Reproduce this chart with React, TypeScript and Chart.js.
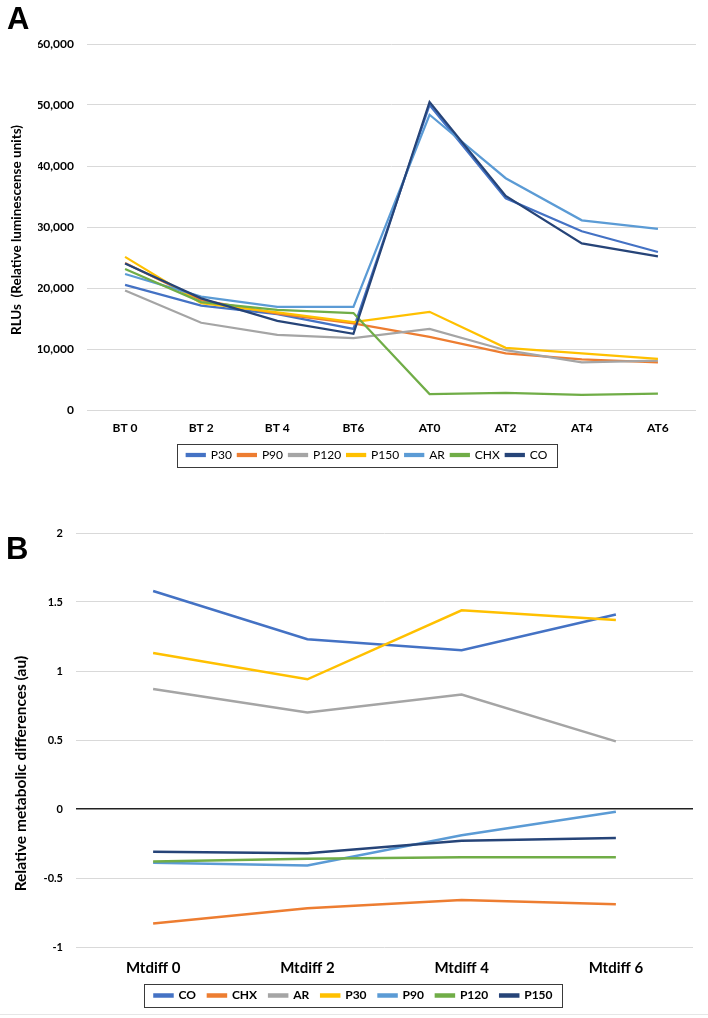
import React, { useEffect, useRef } from 'react';
import { Chart, registerables } from 'chart.js';

Chart.register(...registerables);

const FONT = 'Lato, "Open Sans", sans-serif';

// ---------- Panel A data ----------
const categoriesA = ['BT 0', 'BT 2', 'BT 4', 'BT6', 'AT0', 'AT2', 'AT4', 'AT6'];
const seriesNamesA = ['P30', 'P90', 'P120', 'P150', 'AR', 'CHX', 'CO'];
const p30A = [20500, 17100, 15700, 13300, 50000, 34700, 29300, 25900];
const p90A = [24100, 18000, 15800, 14200, 12000, 9300, 8300, 7800];
const p120A = [19600, 14300, 12300, 11800, 13300, 9800, 7800, 8100];
const p150A = [25100, 17500, 16000, 14400, 16100, 10200, 9300, 8400];
const arA = [22300, 18600, 16900, 16900, 48400, 38000, 31100, 29700];
const chxA = [23100, 17700, 16400, 15900, 2600, 2800, 2500, 2700];
const coA = [24000, 18300, 14600, 12500, 50500, 35100, 27300, 25200];
const colorsA = ['#4472C4', '#ED7D31', '#A5A5A5', '#FFC000', '#5B9BD5', '#70AD47', '#264478'];
const yTicksA = { min: 0, max: 60000, step: 10000 };
const yTitleA = 'RLUs  (Relative luminescense units)';

// ---------- Panel B data ----------
const categoriesB = ['Mtdiff 0', 'Mtdiff 2', 'Mtdiff 4', 'Mtdiff 6'];
const seriesNamesB = ['CO', 'CHX', 'AR', 'P30', 'P90', 'P120', 'P150'];
const coB = [1.58, 1.23, 1.15, 1.41];
const chxB = [-0.83, -0.72, -0.66, -0.69];
const arB = [0.87, 0.70, 0.83, 0.49];
const p30B = [1.13, 0.94, 1.44, 1.37];
const p90B = [-0.39, -0.41, -0.19, -0.02];
const p120B = [-0.38, -0.36, -0.35, -0.35];
const p150B = [-0.31, -0.32, -0.23, -0.21];
const colorsB = ['#4472C4', '#ED7D31', '#A5A5A5', '#FFC000', '#5B9BD5', '#70AD47', '#264478'];
const yTicksB = { min: -1, max: 2, step: 0.5 };
const yTitleB = 'Relative metabolic differences (au)';

const boxedLegend = {
  id: 'boxedLegend',
  afterDraw(chart: any, _args: any, opts: any) {
    const lg = chart.legend;
    if (!lg || !lg.legendHitBoxes || !lg.legendHitBoxes.length) return;
    let l = Infinity, r = -Infinity, t = Infinity, b = -Infinity;
    lg.legendHitBoxes.forEach((h: any) => {
      l = Math.min(l, h.left);
      r = Math.max(r, h.left + h.width);
      t = Math.min(t, h.top);
      b = Math.max(b, h.top + h.height);
    });
    const px = opts.padX ?? 10;
    const py = opts.padY ?? 5;
    const ctx = chart.ctx;
    ctx.save();
    ctx.strokeStyle = '#3a3a3a';
    ctx.lineWidth = 1;
    ctx.strokeRect(Math.round(l - px) + 0.5, Math.round(t - py) + 0.5, Math.round(r - l + 2 * px), Math.round(b - t + 2 * py));
    ctx.restore();
  },
};

const yTitlePlugin = {
  id: 'yTitle',
  afterDraw(chart: any, _args: any, opts: any) {
    if (!opts || !opts.text) return;
    const ctx = chart.ctx;
    ctx.save();
    ctx.translate(opts.x, opts.y);
    ctx.rotate(-Math.PI / 2);
    ctx.font = `bold ${opts.size}px ${FONT}`;
    ctx.fillStyle = '#000';
    ctx.textAlign = 'center';
    ctx.textBaseline = 'middle';
    ctx.fillText(opts.text, 0, 0);
    ctx.restore();
  },
};

function buildConfig(p: any) {
  const n = p.series.length;
  return {
    type: 'line',
    data: {
      labels: p.labels,
      datasets: p.series.map((s: number[], i: number) => ({
        label: p.names[i],
        data: s,
        borderColor: p.colors[i],
        backgroundColor: p.colors[i],
        borderWidth: p.lineWidth,
        pointRadius: 0,
        tension: 0,
        fill: false,
        order: n - i,
      })),
    },
    options: {
      responsive: false,
      animation: false,
      devicePixelRatio: 1,
      layout: { padding: p.padding },
      scales: {
        x: {
          offset: true,
          grid: { display: false, offset: false, drawTicks: false },
          border: { display: false },
          ticks: {
            color: '#000',
            padding: p.xTickPad,
            font: { family: FONT, size: p.xFontSize, weight: 'bold' },
            maxRotation: 0,
          },
          afterFit: (axis: any) => { axis.height = p.xAxisHeight; },
        },
        y: {
          min: p.yTicks.min,
          max: p.yTicks.max,
          border: { display: false },
          grid: {
            drawTicks: false,
            color: (c: any) => (p.zeroLine && c.tick && c.tick.value === 0 ? '#222' : '#d9d9d9'),
            lineWidth: (c: any) => (p.zeroLine && c.tick && c.tick.value === 0 ? 1.6 : 1),
          },
          ticks: {
            stepSize: p.yTicks.step,
            color: '#000',
            padding: p.yTickPad,
            font: { family: FONT, size: p.yFontSize, weight: 'bold' },
            callback: p.tickFmt,
          },
          afterFit: (axis: any) => { axis.width = p.yAxisWidth; },
        },
      },
      plugins: {
        tooltip: { enabled: false },
        legend: {
          display: true,
          position: 'bottom',
          labels: {
            boxWidth: 18,
            boxHeight: 2,
            padding: p.legendGap,
            color: '#000',
            font: { family: FONT, size: 12, weight: p.legendBold ? 'bold' : 'normal' },
            sort: (a: any, b: any) => a.datasetIndex - b.datasetIndex,
          },
        },
        boxedLegend: { padX: 10, padY: 5.5 },
        yTitle: p.yTitle,
      },
    },
    plugins: [boxedLegend, yTitlePlugin],
  };
}

function ChartCanvas({ config, width, height, top }: any) {
  const ref = useRef<HTMLCanvasElement | null>(null);
  useEffect(() => {
    const chart = new Chart(ref.current as HTMLCanvasElement, config as any);
    return () => chart.destroy();
  }, []);
  return (
    <canvas
      ref={ref}
      width={width}
      height={height}
      style={{ position: 'absolute', left: 0, top, width, height, display: 'block' }}
    />
  );
}

const configA = buildConfig({
  labels: categoriesA,
  names: seriesNamesA,
  series: [p30A, p90A, p120A, p150A, arA, chxA, coA],
  colors: colorsA,
  yTicks: yTicksA,
  tickFmt: (v: number) => Number(v).toLocaleString('en-US'),
  padding: { top: 44, left: 38, right: 12, bottom: 9 },
  yAxisWidth: 49,
  xAxisHeight: 33,
  xTickPad: 11,
  yTickPad: 13,
  yFontSize: 12,
  xFontSize: 12,
  legendBold: false,
  legendGap: 6,
  lineWidth: 2.25,
  zeroLine: false,
  yTitle: { text: yTitleA, x: 16.5, y: 230, size: 13.5 },
});

const configB = buildConfig({
  labels: categoriesB,
  names: seriesNamesB,
  series: [coB, chxB, arB, p30B, p90B, p120B, p150B],
  colors: colorsB,
  yTicks: yTicksB,
  tickFmt: (v: number) => String(v),
  padding: { top: 53, left: 14, right: 15, bottom: 6.5 },
  yAxisWidth: 62,
  xAxisHeight: 30.5,
  xTickPad: 12,
  yTickPad: 13,
  yFontSize: 11,
  xFontSize: 15,
  legendBold: true,
  legendGap: 12,
  lineWidth: 2.5,
  zeroLine: true,
  yTitle: { text: yTitleB, x: 21, y: 293.5, size: 15.5 },
});

export default function App() {
  return (
    <div style={{ position: 'absolute', left: 0, top: 0, width: 708, height: 1018, overflow: 'hidden', background: '#fff' }}>
      <ChartCanvas config={configA} width={708} height={480} top={0} />
      <ChartCanvas config={configB} width={708} height={538} top={480} />
      <div style={{ position: 'absolute', left: 7, top: 3, font: 'bold 31px "Liberation Sans", Arial, sans-serif', lineHeight: '31px' }}>A</div>
      <div style={{ position: 'absolute', left: 6, top: 533, font: 'bold 31px "Liberation Sans", Arial, sans-serif', lineHeight: '31px' }}>B</div>
      <div style={{ position: 'absolute', left: 0, top: 1014, width: 708, height: 1, background: '#e6e6e6' }} />
    </div>
  );
}
